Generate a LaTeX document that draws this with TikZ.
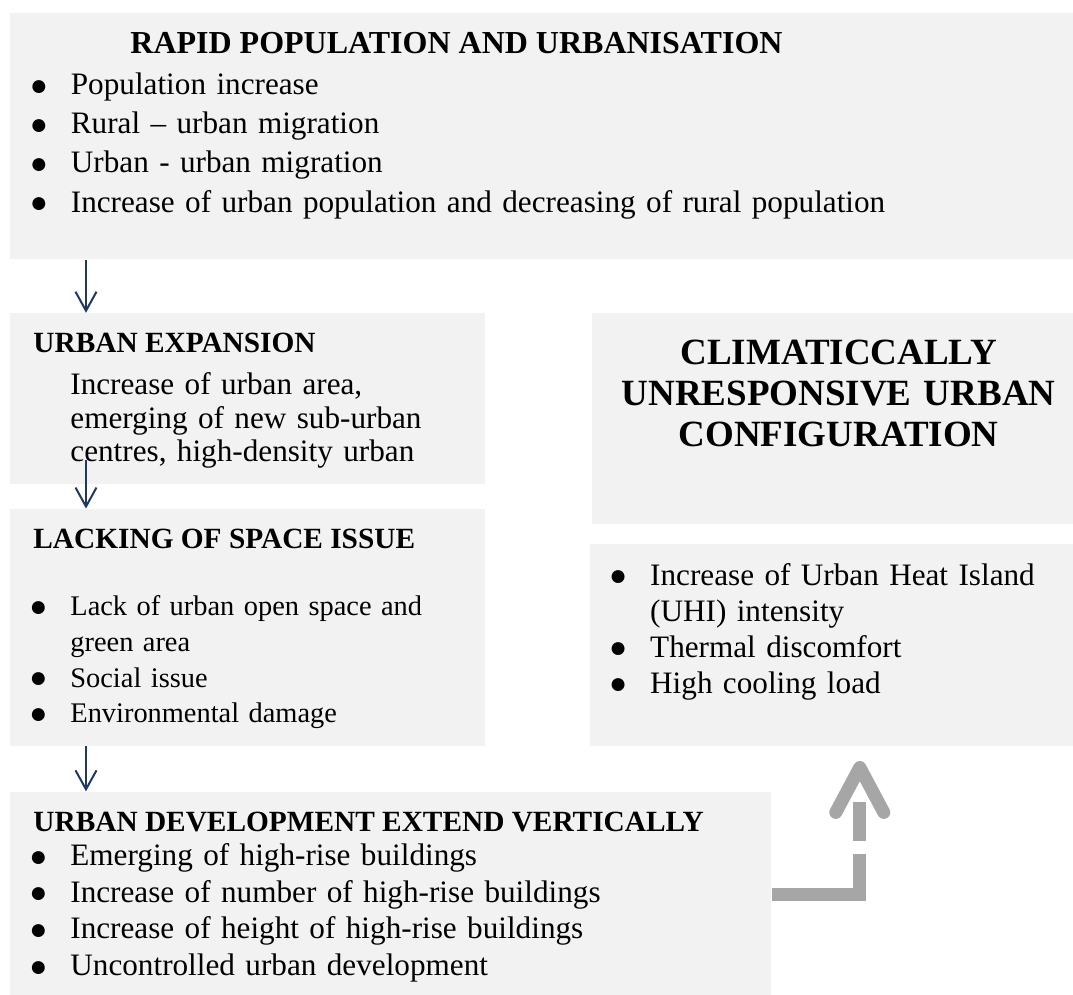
\documentclass[tikz,border=0pt]{standalone}
\usepackage{fontspec}
\setmainfont{Liberation Serif}
\usetikzlibrary{positioning, calc, arrows.meta}
\definecolor{boxgray}{HTML}{F2F2F2}
\definecolor{navy}{HTML}{1F3864}
\definecolor{arrowgray}{HTML}{A6A6A6}
\newcommand{\bul}{\makebox[16pt][l]{\makebox[0pt]{\raisebox{-0.4pt}{\fontsize{15}{15}\selectfont ●}}}}
\newcommand{\cont}{\hspace*{16pt}}
\tikzset{
	>={Straight Barb[length=9.5pt,width=10.5pt]},
	box/.style={fill=boxgray, inner sep=0, anchor=north west},
	head/.style={font=\bfseries\fontsize{14.67}{17}\selectfont, inner sep=0, anchor=base west},
	list/.style={text width=480pt, align=left, inner sep=0, anchor=base west},
	flow/.style={->, draw=navy, line width=1pt},
	bigarrow/.style={draw=arrowgray, line width=6.5pt},
}
\begin{document}
\begin{tikzpicture}[x=0.5pt, y=-0.5pt]
			\useasboundingbox (0,0) rectangle (1073,995);
			% boxes
			\node[box, minimum width=531.5pt, minimum height=123pt] (POP) at (10,13) {};
			\node[box, below=26.5pt of POP.south west, anchor=north west, minimum width=237.5pt, minimum height=85.5pt] (EXP) {};
			\node[box, below=12pt of EXP.south west, anchor=north west, minimum width=237.5pt, minimum height=118.5pt] (LACK) {};
			\node[box, below=22.5pt of LACK.south west, anchor=north west, minimum width=380.5pt, minimum height=103pt] (VERT) {};
			\node[box, right=53pt of EXP.north east, anchor=north west, minimum width=241pt, minimum height=105.5pt] (CLIM) {};
			\node[box, below=9.5pt of CLIM.south west, anchor=north west, xshift=-1pt, minimum width=242pt, minimum height=101pt] (EFF) {};
			
			% texts
			\node[head, font=\bfseries\fontsize{16}{19}\selectfont] (popHead) at ([shift={(120,41)}]POP.north west) {RAPID POPULATION AND URBANISATION};
			\node[list, font=\fontsize{15.6}{19.6}\selectfont] (popList) at ([shift={(28.5,81.5)}]POP.north west) {\bul Population increase\\ \bul Rural -- urban migration\\ \bul Urban - urban migration\\ \bul Increase of urban population and decreasing of rural population};
			\node[head] (expHead) at ([shift={(23,39.7)}]EXP.north west) {URBAN EXPANSION};
			\node[list, font=\fontsize{15.6}{16.75}\selectfont] (expText) at ([shift={(60,82)}]EXP.north west) {Increase of urban area,\\ emerging of new sub-urban\\ centres, high-density urban};
			\node[head] (lackHead) at ([shift={(23,39.7)}]LACK.north west) {LACKING OF SPACE ISSUE};
			\node[list, font=\fontsize{14.2}{17.85}\selectfont] (lackList) at ([shift={(28,107)}]LACK.north west) {\bul Lack of urban open space and\\ \cont green area\\ \bul Social issue\\ \bul Environmental damage};
			\node[head] (vertHead) at ([shift={(23,40)}]VERT.north west) {URBAN DEVELOPMENT EXTEND VERTICALLY};
			\node[list, font=\fontsize{15.6}{18.35}\selectfont] (vertList) at ([shift={(28,74)}]VERT.north west) {\bul Emerging of high-rise buildings\\ \bul Increase of number of high-rise buildings\\ \bul Increase of height of high-rise buildings\\ \bul Uncontrolled urban development};
			\node[text width=250pt, align=center, inner sep=0, anchor=base, font=\bfseries\fontsize{18.5}{20.5}\selectfont] (climText) at ([shift={(5.5,52)}]CLIM.north) {CLIMATICCALLY\\ UNRESPONSIVE URBAN\\ CONFIGURATION};
			\node[list, font=\fontsize{15.6}{18}\selectfont] (effList) at ([shift={(28,41.5)}]EFF.north west) {\bul Increase of Urban Heat Island\\ \cont (UHI) intensity\\ \bul Thermal discomfort\\ \bul High cooling load};
			
			% connectors
			\draw[flow] ([xshift=38pt]POP.south west) -- ([xshift=38pt]EXP.north west);
			\draw[flow] ([shift={(76,-25)}]EXP.south west) -- ([xshift=38pt]LACK.north west);
			\draw[flow] ([xshift=38pt]LACK.south west) -- ([xshift=38pt]VERT.north west);
			\coordinate (tip) at ([shift={(270,21)}]EFF.south west);
			\draw[bigarrow, dash pattern=on 64.5pt off 6.5pt on 19.5pt off 40pt] (VERT.east) -| (tip);
			\draw[bigarrow, line cap=round, line join=round] (tip) ++(-24,45) -- (tip) -- ++(24,45);
		\end{tikzpicture}
\end{document}
